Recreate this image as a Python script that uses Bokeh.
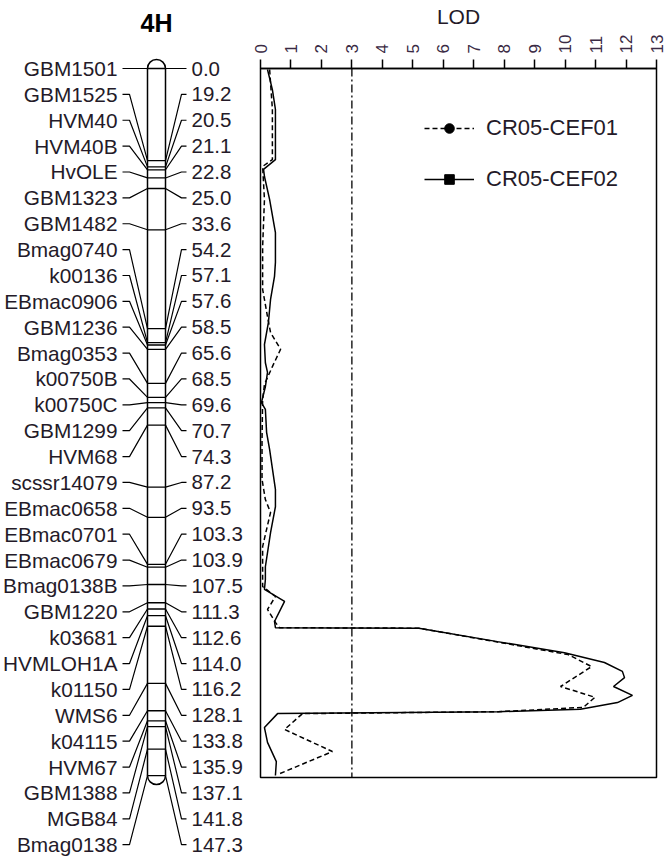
import numpy as np
from bokeh.plotting import figure
from bokeh.layouts import row
from bokeh.models import Range1d, FixedTicker, Span, Legend, LegendItem
from bokeh.core.properties import value
from bokeh.embed import file_html
from bokeh.resources import INLINE

# ---------------- data ----------------
chromosome = "4H"
markers = ["GBM1501", "GBM1525", "HVM40", "HVM40B", "HvOLE", "GBM1323", "GBM1482",
           "Bmag0740", "k00136", "EBmac0906", "GBM1236", "Bmag0353", "k00750B", "k00750C",
           "GBM1299", "HVM68", "scssr14079", "EBmac0658", "EBmac0701", "EBmac0679",
           "Bmag0138B", "GBM1220", "k03681", "HVMLOH1A", "k01150", "WMS6", "k04115",
           "HVM67", "GBM1388", "MGB84", "Bmag0138"]
positions = [0.0, 19.2, 20.5, 21.1, 22.8, 25.0, 33.6, 54.2, 57.1, 57.6, 58.5, 65.6,
             68.5, 69.6, 70.7, 74.3, 87.2, 93.5, 103.3, 103.9, 107.5, 111.3, 112.6,
             114.0, 116.2, 128.1, 133.8, 135.9, 137.1, 141.8, 147.3]

series_names = ["CR05-CEF01", "CR05-CEF02"]

cef01_cm = [0.2, 8.5, 19.0, 20.4, 27.3, 37.1, 46.0, 51.7, 55.0, 58.5, 62.1, 65.8, 69.0,
            77.3, 85.6, 89.8, 92.5, 96.0, 99.6, 107.9, 110.0, 112.7, 115.4, 116.5,
            116.6, 119.4, 122.1, 124.6, 128.75, 131.0, 133.1, 134.0, 134.4, 137.7,
            142.3, 147.1]
cef01_lod = [0.30, 0.39, 0.39, 0.07, 0.13, 0.07, 0.07, 0.23, 0.33, 0.66, 0.39, 0.13, 0.07,
             0.05, 0.05, 0.16, 0.33, 0.20, 0.07, 0.07, 0.49, 0.23, 0.49, 0.62,
             5.2, 7.7, 10.1, 10.87, 9.85, 10.98, 10.6, 7.8, 1.38, 0.79,
             2.36, 0.56]

cef02_cm = [0.2, 4.4, 8.5, 19.0, 21.0, 22.5, 27.3, 34.2, 37.7, 40.4, 43.3, 48.1, 52.9,
            57.5, 61.3, 63.3, 66.3, 69.6, 71.0, 75.8, 79.4, 87.7, 91.3, 96.7, 103.8,
            106.5, 108.5, 111.0, 115.2, 116.5, 116.6, 119.4, 121.7, 123.75, 125.6,
            126.9, 128.75, 130.6, 132.1, 133.5, 134.0, 134.4, 137.3, 140.4, 144.4, 147.3]
cef02_lod = [0.23, 0.39, 0.49, 0.49, 0.10, 0.13, 0.30, 0.49, 0.49, 0.49, 0.46, 0.33, 0.26,
             0.13, 0.16, 0.23, 0.16, 0.03, 0.16, 0.20, 0.30, 0.49, 0.49, 0.33, 0.16,
             0.16, 0.13, 0.79, 0.46, 0.49, 5.2, 7.78, 9.98, 11.29, 11.88,
             11.95, 11.59, 12.21, 11.72, 10.5, 7.8, 0.56, 0.13, 0.23, 0.52, 0.49]

lod_ticks = list(range(0, 14))
threshold = 3.0

# ---------------- layout constants ----------------
H = 858
PX_PER_CM = 4.80
TOP = 68
BOTTOM_B = 81
FONT = "Liberation Sans"
TXT = "#241a28"
WA = 250
SHIFT = 2
CX = 154
CW = 18
LABEL_SPAN = 161.7

n = len(markers)
label_y = list(np.linspace(0, LABEL_SPAN, n))

# ---------------- chromosome figure ----------------
pa = figure(width=WA, height=H, x_range=Range1d(-SHIFT, WA - SHIFT),
            y_range=Range1d(start=(H - TOP) / PX_PER_CM, end=-TOP / PX_PER_CM),
            output_backend="svg", toolbar_location=None, min_border=0,
            x_axis_location=None, y_axis_location=None, outline_line_color=None)
pa.grid.visible = False

pa.scatter([CX, CX], [positions[0], positions[-1]], marker="circle", size=CW,
           fill_color="white", line_color="black", line_width=1.5)
pa.quad(left=[CX - CW / 2], right=[CX + CW / 2], top=[positions[0]], bottom=[positions[-1]],
        fill_color="white", line_color=None)
pa.segment(x0=[CX - CW / 2, CX + CW / 2], x1=[CX - CW / 2, CX + CW / 2],
           y0=[positions[0]] * 2, y1=[positions[-1]] * 2, line_color="black", line_width=1.5)
pa.segment(x0=[CX - CW / 2] * n, x1=[CX + CW / 2] * n, y0=positions, y1=positions,
           line_color="black", line_width=1.3)

left_xs = [[120, 127, CX - CW / 2] for _ in range(n)]
left_ys = [[ly, ly, pos] for ly, pos in zip(label_y, positions)]
right_xs = [[CX + CW / 2, 179, 184] for _ in range(n)]
right_ys = [[pos, ly, ly] for ly, pos in zip(label_y, positions)]
pa.multi_line(left_xs, left_ys, line_color="black", line_width=1.2)
pa.multi_line(right_xs, right_ys, line_color="black", line_width=1.2)

pa.text(x=[115] * n, y=label_y, text=markers, text_align="right", text_baseline="middle",
        text_font=value(FONT), text_font_size="20.8px", text_color=TXT)
pa.text(x=[189] * n, y=label_y, text=[f"{p:.1f}" for p in positions], text_align="left",
        text_baseline="middle", text_font=value(FONT), text_font_size="20.5px", text_color=TXT)
pa.text(x=[CX], y=[-9.4], text=[chromosome], text_align="center", text_baseline="middle",
        text_font=value(FONT), text_font_size="25px", text_font_style="bold", text_color="black")

# ---------------- LOD figure ----------------
WB = 414
pb = figure(width=WB, height=H, x_range=Range1d(0, 13),
            y_range=Range1d(start=(H - TOP - BOTTOM_B) / PX_PER_CM, end=0),
            output_backend="svg", toolbar_location=None,
            x_axis_location="above", y_axis_location=None,
            min_border_left=10, min_border_right=8, min_border_top=TOP,
            min_border_bottom=BOTTOM_B,
            outline_line_color="black", outline_line_width=1.5)
pb.grid.visible = False
ax = pb.xaxis[0]
ax.ticker = FixedTicker(ticks=lod_ticks)
ax.major_label_orientation = np.pi / 2
ax.major_tick_in = 0
ax.major_tick_out = 9
ax.minor_tick_in = 0
ax.minor_tick_out = 0
ax.major_tick_line_width = 1.5
ax.axis_line_width = 1.5
ax.major_label_standoff = 6
ax.major_label_text_font = FONT
ax.major_label_text_font_size = "17px"
ax.major_label_text_color = "#3a2a44"
ax.axis_label = "LOD"
ax.axis_label_text_font = FONT
ax.axis_label_text_font_style = "normal"
ax.axis_label_text_font_size = "21px"
ax.axis_label_text_color = TXT
ax.axis_label_standoff = 4

pb.add_layout(Span(location=threshold, dimension="height", line_color="black",
                   line_width=1.3, line_dash="8 3 2 3"))

r1 = pb.line(cef01_lod, cef01_cm, line_color="black", line_width=1.5, line_dash="5 3")
r2 = pb.line(cef02_lod, cef02_cm, line_color="black", line_width=1.5)

# legend-only marker renderers (a single NaN point draws nothing on the plot)
m1 = pb.scatter(x=[np.nan], y=[np.nan], marker="circle", size=12, fill_color="black",
                line_color="black")
m2 = pb.scatter(x=[np.nan], y=[np.nan], marker="square", size=11, fill_color="black",
                line_color="black")

legend = Legend(items=[LegendItem(label=series_names[0], renderers=[r1, m1]),
                       LegendItem(label=series_names[1], renderers=[r2, m2])],
                location=(164, 585), orientation="vertical")
legend.border_line_color = None
legend.background_fill_alpha = 0
legend.label_text_font = FONT
legend.label_text_font_size = "22px"
legend.label_text_color = TXT
legend.glyph_width = 50
legend.glyph_height = 24
legend.label_height = 24
legend.label_standoff = 12
legend.spacing = 25
legend.padding = 0
legend.margin = 0
pb.add_layout(legend)

# keep each figure's frame independent inside the row
for f in (pa, pb):
    try:
        f.frame_align = False
    except Exception:
        pass

layout = row(pa, pb)
open("out.html", "w").write(file_html(layout, INLINE))
